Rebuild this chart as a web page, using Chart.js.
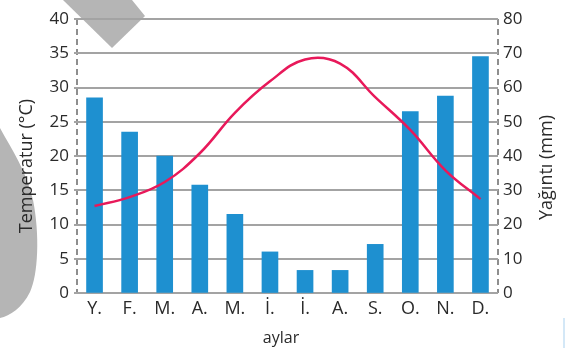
<!DOCTYPE html>
<html>
<head>
<meta charset="utf-8">
<script src="https://cdn.jsdelivr.net/npm/chart.js@4.4.1/dist/chart.umd.min.js"></script>
<style>
html,body{margin:0;padding:0;background:#fff;}
#wrap{width:565px;height:348px;position:relative;}
</style>
</head>
<body>
<div id="wrap"><canvas id="c" width="565" height="348"></canvas></div>
<script>
const months = ['Y.','F.','M.','A.','M.','İ.','İ.','A.','S.','O.','N.','D.'];
const precipitation = [57, 47, 40, 31.5, 23, 12, 6.6, 6.6, 14.2, 53, 57.5, 69];
const temperature = [12.7, 14.0, 16.2, 20.4, 26.3, 30.9, 34.1, 33.5, 28.6, 23.8, 17.9, 13.7];
const tempTicks = [0,5,10,15,20,25,30,35,40];
const precipTicks = [0,10,20,30,40,50,60,70,80];

const FONT = '"Open Sans", "Noto Sans", sans-serif';
const TXT = '#2a2a2a';
const GRID = '#a3a3a3';
const AXISDASH = '#8e8e8e';

// draw an axis title (from the scale's own title options) at a chosen place
function placeTitle(cx, cy, rot, baseline) {
  return function (s) {
    if (s._placed) return;
    s._placed = true;
    s.drawTitle = function () {
      const t = this.options.title;
      if (!t.display) return;
      const ctx = this.ctx;
      ctx.save();
      ctx.translate(cx, cy);
      ctx.rotate(rot);
      ctx.font = Chart.helpers.toFont(t.font).string;
      ctx.fillStyle = t.color;
      ctx.textAlign = 'center';
      ctx.textBaseline = baseline;
      ctx.fillText(t.text, 0, 0);
      ctx.restore();
    };
  };
}

const deco = {
  id: 'deco',
  beforeDraw(chart) {
    const ctx = chart.ctx;
    ctx.save();
    ctx.fillStyle = '#b5b5b5';
    ctx.beginPath();
    ctx.moveTo(63, 0); ctx.lineTo(132, 0); ctx.lineTo(145, 16); ctx.lineTo(112, 48);
    ctx.closePath(); ctx.fill();
    ctx.beginPath();
    ctx.moveTo(0, 128);
    ctx.bezierCurveTo(12, 150, 26, 170, 33, 200);
    ctx.bezierCurveTo(40, 235, 38, 275, 30, 292);
    ctx.bezierCurveTo(22, 308, 10, 316, 0, 318);
    ctx.closePath(); ctx.fill();
    ctx.strokeStyle = '#d4e8f7';
    ctx.lineWidth = 2;
    ctx.beginPath(); ctx.moveTo(564, 318); ctx.lineTo(564, 348); ctx.stroke();
    ctx.restore();
  }
};

new Chart(document.getElementById('c'), {
  data: {
    labels: months,
    datasets: [
      {
        type: 'line', label: 'Temperatur', data: temperature, yAxisID: 'y',
        borderColor: '#e8195a', borderWidth: 2.5, pointRadius: 0, tension: 0.4,
        fill: false, order: 0
      },
      {
        type: 'bar', label: 'Yağıntı', data: precipitation, yAxisID: 'y2',
        backgroundColor: '#1e90d0', barThickness: 16, order: 1
      }
    ]
  },
  plugins: [deco],
  options: {
    responsive: false,
    animation: false,
    layout: { padding: { top: 19, left: 0, right: 0, bottom: 0 }, autoPadding: false },
    plugins: { legend: { display: false }, tooltip: { enabled: false } },
    scales: {
      x: {
        offset: true,
        grid: {
          offset: true, drawTicks: false, lineWidth: 2,
          color: (c) => (!c.tick || c.index === 0) ? AXISDASH : 'rgba(0,0,0,0)'
        },
        border: { display: false, dash: [6, 4] },
        ticks: { color: TXT, font: { family: FONT, size: 18 }, padding: 5, maxRotation: 0, autoSkip: false },
        title: { display: true, text: 'aylar', color: TXT, font: { family: FONT, size: 16 } },
        afterFit(s) { s.height = 55; },
        afterUpdate: placeTitle(281, 343, 0, 'alphabetic')
      },
      y: {
        position: 'left', min: 0, max: 40,
        afterBuildTicks(s) { s.ticks = tempTicks.map(v => ({ value: v })); },
        grid: { color: GRID, lineWidth: 2, tickLength: 3, drawTicks: true },
        border: { display: false },
        ticks: { color: TXT, font: { family: FONT, size: 17 }, padding: 5 },
        title: { display: true, text: 'Temperatur (°C)', color: TXT, font: { family: FONT, size: 18 } },
        afterFit(s) { s.width = 77; },
        afterUpdate: placeTitle(27, 166, -Math.PI / 2, 'middle')
      },
      y2: {
        position: 'right', min: 0, max: 80,
        afterBuildTicks(s) { s.ticks = precipTicks.map(v => ({ value: v })); },
        grid: { drawOnChartArea: false, drawTicks: false },
        border: { display: false },
        ticks: { color: TXT, font: { family: FONT, size: 17 }, padding: 5 },
        title: { display: true, text: 'Yağıntı (mm)', color: TXT, font: { family: FONT, size: 18 } },
        afterFit(s) { s.width = 67; },
        afterUpdate: placeTitle(547, 167.5, -Math.PI / 2, 'middle')
      }
    }
  }
});
</script>
</body>
</html>
